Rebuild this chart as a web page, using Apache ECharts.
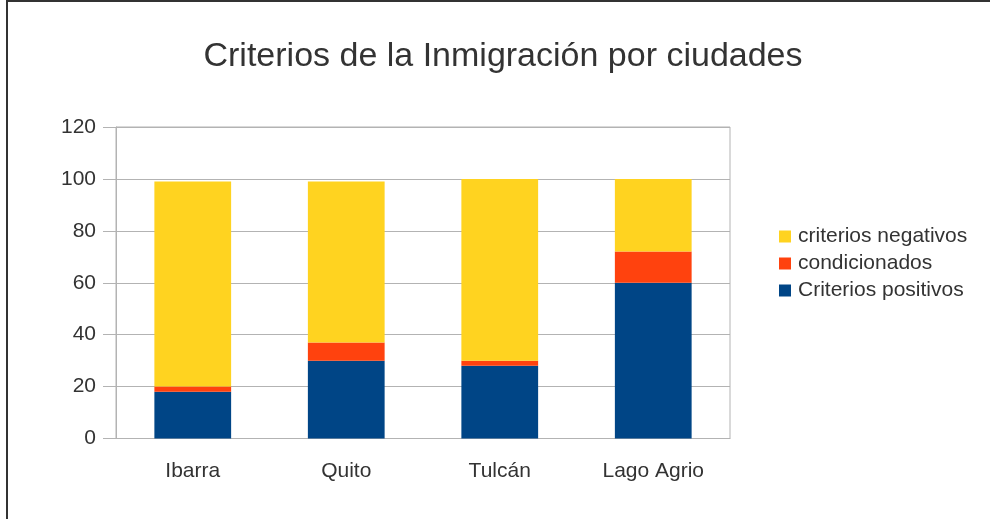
<!DOCTYPE html>
<html>
<head>
<meta charset="utf-8">
<script src="https://cdn.jsdelivr.net/npm/echarts@6/dist/echarts.min.js"></script>
<style>
    html, body { margin: 0; padding: 0; background: #fff; }
    #chart { width: 991px; height: 519px; }
</style>
</head>
<body>
<div id="chart"></div>
<script>
// ciudades y valores
const ciudades = ['Ibarra', 'Quito', 'Tulcán', 'Lago Agrio'];
const positivos = [18, 30, 28, 60];
const condicionados = [2, 7, 2, 12];
const negativos = [79, 62, 70, 28];
const yTicks = { min: 0, max: 120, interval: 20 };

const FONT = 'Liberation Sans, Arial, sans-serif';
const TEXT_COLOR = '#333333';
const GRID_COLOR = '#b3b3b3';

function drawChart() {
    var chart = echarts.init(document.getElementById('chart'));

    let option = {
        animation: false,
        backgroundColor: '#ffffff',
        title: {
            text: 'Criterios de la Inmigración por ciudades',
            left: 498,
            textAlign: 'center',
            top: 35,
            textStyle: {
                fontFamily: FONT,
                fontSize: 34,
                fontWeight: 'normal',
                color: TEXT_COLOR,
            },
        },
        legend: {
            orient: 'vertical',
            left: 779,
            top: 226,
            padding: 0,
            itemWidth: 12,
            itemHeight: 12,
            itemGap: 6,
            icon: 'rect',
            data: ['criterios negativos', 'condicionados', 'Criterios positivos'],
            textStyle: {
                fontFamily: FONT,
                fontSize: 21,
                lineHeight: 21,
                color: TEXT_COLOR,
                padding: [0, 0, 0, 2],
            },
        },
        grid: {
            left: 116,
            right: 261,
            top: 127,
            bottom: 80.5,
            show: true,
            borderColor: GRID_COLOR,
            borderWidth: 1,
        },
        xAxis: {
            type: 'category',
            data: ciudades,
            axisLine: { lineStyle: { color: GRID_COLOR } },
            axisTick: { length: 10, lineStyle: { color: GRID_COLOR } },
            axisLabel: {
                margin: 22,
                fontFamily: FONT,
                fontSize: 21,
                color: TEXT_COLOR,
            },
        },
        yAxis: {
            type: 'value',
            min: yTicks.min,
            max: yTicks.max,
            interval: yTicks.interval,
            axisLine: { show: true, lineStyle: { color: GRID_COLOR } },
            axisTick: { show: true, length: 13, lineStyle: { color: GRID_COLOR } },
            splitLine: { lineStyle: { color: GRID_COLOR } },
            axisLabel: {
                margin: 20,
                fontFamily: FONT,
                fontSize: 21,
                color: TEXT_COLOR,
            },
        },
        series: [
            {
                name: 'Criterios positivos',
                type: 'bar',
                stack: 'total',
                barWidth: '50%',
                itemStyle: { color: '#004586' },
                data: positivos,
            },
            {
                name: 'condicionados',
                type: 'bar',
                stack: 'total',
                itemStyle: { color: '#ff420e' },
                data: condicionados,
            },
            {
                name: 'criterios negativos',
                type: 'bar',
                stack: 'total',
                itemStyle: { color: '#ffd320' },
                data: negativos,
            },
        ],
        // marco del grafico (solo borde superior e izquierdo)
        graphic: [
            {
                type: 'polyline',
                shape: { points: [[7, 519], [7, 1], [990, 1]] },
                style: { stroke: '#333333', lineWidth: 2, fill: null },
            },
        ],
    };

    chart.setOption(option);
    return chart;
}

drawChart();
</script>
</body>
</html>
